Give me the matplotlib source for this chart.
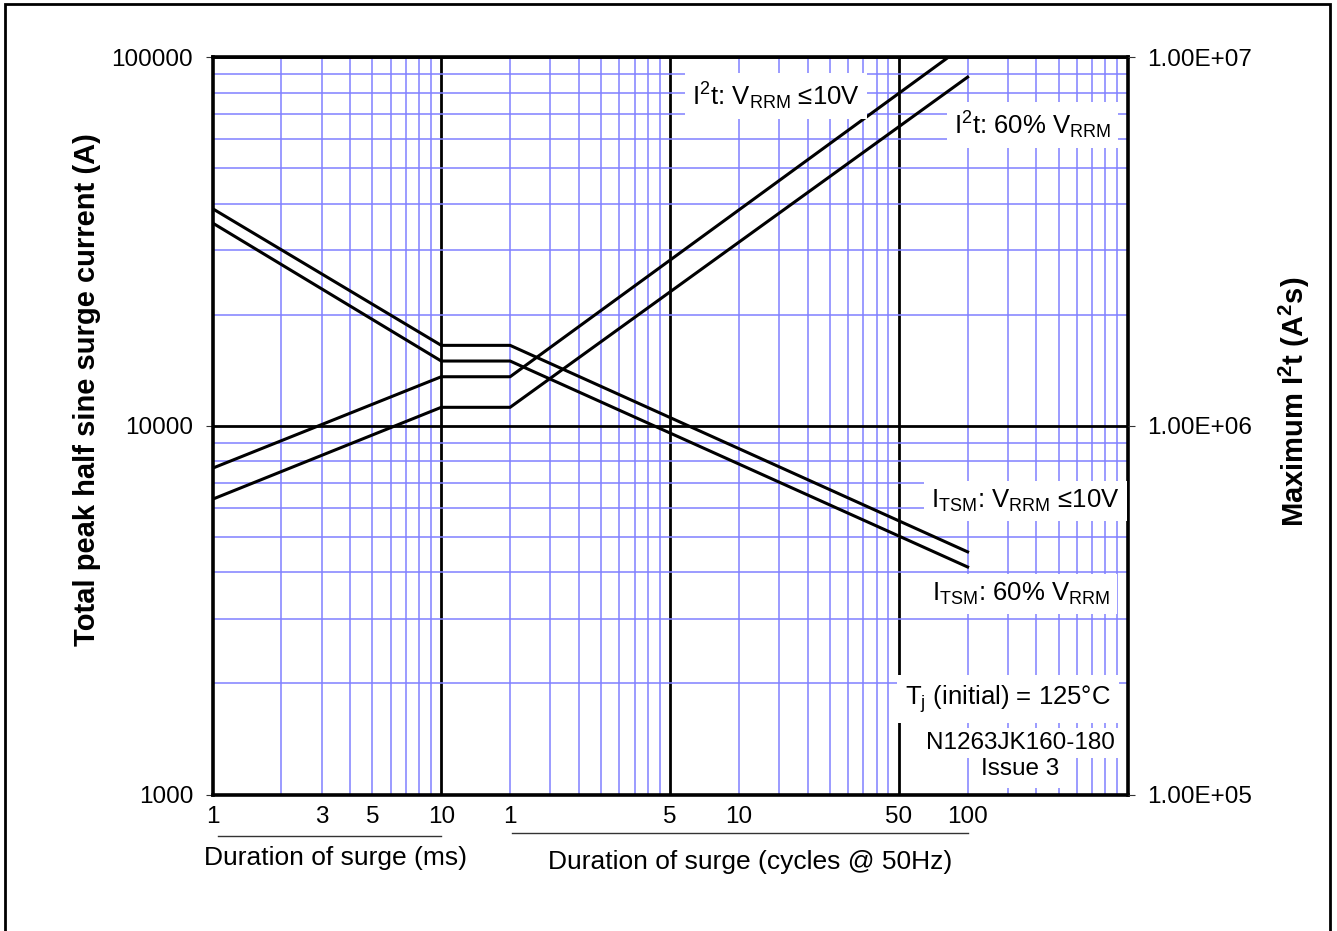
import matplotlib
matplotlib.use("Agg")
import matplotlib.pyplot as plt
from matplotlib.ticker import FixedLocator, LogLocator, NullFormatter, NullLocator, FixedFormatter
from matplotlib.patches import Rectangle
import matplotlib.transforms as mtransforms

plt.rcParams['font.family'] = ['Liberation Sans', 'DejaVu Sans']
plt.rcParams['mathtext.fontset'] = 'custom'
plt.rcParams['mathtext.rm'] = 'Liberation Sans'
plt.rcParams['mathtext.it'] = 'Liberation Sans:italic'
plt.rcParams['mathtext.bf'] = 'Liberation Sans:bold'

# ---- data (x in ms) ----
duration_ms = [1, 10, 20, 2000]
itsm_10v = [38800, 16520, 16520, 4550]
itsm_60 = [35480, 14980, 14980, 4140]
i2t_10v = [7.67e5, 1.358e6, 1.358e6, 1.09e7]
i2t_60 = [6.32e5, 1.122e6, 1.122e6, 8.82e6]

ms_tick_pos = [1, 3, 5, 10]
ms_tick_lbl = ['1', '3', '5', '10']
cyc_tick_pos = [20, 100, 200, 1000, 2000]
cyc_tick_lbl = ['1', '5', '10', '50', '100']

left_ticks = [1000, 10000, 100000]
left_lbls = ['1000', '10000', '100000']
right_ticks = [1e5, 1e6, 1e7]
right_lbls = ['1.00E+05', '1.00E+06', '1.00E+07']

FS = 17.5
AFS = 18.5
BLUE = '#8080ff'

fig = plt.figure(figsize=(13.37, 9.31), dpi=100)
W, H = 1337, 931
L, R, T, B = 212.5, 1127.5, 57, 794.5
ax = fig.add_axes([L / W, 1 - B / H, (R - L) / W, (B - T) / H])
ax.set_xscale('log')
ax.set_yscale('log')
ax.set_xlim(1, 10000)
ax.set_ylim(1000, 100000)

# grid
ax.xaxis.set_major_locator(FixedLocator([10, 100, 1000]))
ax.xaxis.set_minor_locator(LogLocator(base=10, subs=range(2, 10)))
ax.xaxis.set_major_formatter(NullFormatter())
ax.xaxis.set_minor_formatter(NullFormatter())
ax.yaxis.set_major_locator(FixedLocator(left_ticks))
ax.yaxis.set_major_formatter(FixedFormatter(left_lbls))
ax.yaxis.set_minor_locator(LogLocator(base=10, subs=range(2, 10)))
ax.yaxis.set_minor_formatter(NullFormatter())
ax.grid(True, which='minor', color=BLUE, lw=1.1, zorder=0)
ax.grid(True, which='major', color='black', lw=2.0, zorder=1)
ax.tick_params(axis='x', which='both', length=0)
ax.tick_params(axis='y', which='minor', length=0)
ax.tick_params(axis='y', which='major', length=5, width=0.8, color='#333333',
               pad=9, labelsize=FS, direction='out')
ax.set_axisbelow(True)
for s in ax.spines.values():
    s.set_linewidth(2.6)
    s.set_zorder(5)

# bottom labels via secondary axis
sec = ax.secondary_xaxis('bottom')
sec.xaxis.set_major_locator(FixedLocator(ms_tick_pos + cyc_tick_pos))
sec.xaxis.set_major_formatter(FixedFormatter(ms_tick_lbl + cyc_tick_lbl))
sec.xaxis.set_minor_locator(NullLocator())
sec.tick_params(length=0, pad=8, labelsize=FS)
sec.spines['bottom'].set_visible(False)

# right axis
ax2 = ax.twinx()
ax2.set_yscale('log')
ax2.set_ylim(1e5, 1e7)
ax2.yaxis.set_major_locator(FixedLocator(right_ticks))
ax2.yaxis.set_major_formatter(FixedFormatter(right_lbls))
ax2.yaxis.set_minor_locator(NullLocator())
ax2.tick_params(axis='y', which='major', length=5, width=0.8, color='#333333',
                pad=9, labelsize=FS, direction='out')
for s in ax2.spines.values():
    s.set_visible(False)

# data lines
lw = 2.2
ax.plot(duration_ms, itsm_10v, color='black', lw=lw, zorder=3, solid_joinstyle='miter')
ax.plot(duration_ms, itsm_60, color='black', lw=lw, zorder=3, solid_joinstyle='miter')
ax2.plot(duration_ms, i2t_10v, color='black', lw=lw, zorder=3, solid_joinstyle='miter')
ax2.plot(duration_ms, i2t_60, color='black', lw=lw, zorder=3, solid_joinstyle='miter')


def ax_xy(px, py):
    return (px - L) / (R - L), (B - py) / (B - T)


box = dict(facecolor='white', edgecolor='none', pad=5)
annots = [
    (692, 105, r'I$^{2}$t: V$_{\mathrm{RRM}}$ ≤10V', AFS, 5),
    (954, 134, r'I$^{2}$t: 60% V$_{\mathrm{RRM}}$', AFS, 5),
    (931, 508, r'I$_{\mathrm{TSM}}$: V$_{\mathrm{RRM}}$ ≤10V', AFS, 5),
    (932, 601, r'I$_{\mathrm{TSM}}$: 60% V$_{\mathrm{RRM}}$', AFS, 5),
    (905, 705, r'T$_{\mathrm{j}}$ (initial) = 125°C', AFS, 6),
]
for px, py, s, fs, pad in annots:
    x, y = ax_xy(px, py)
    ax2.text(x, y, s, transform=ax2.transAxes, ha='left', va='baseline',
             fontsize=fs, bbox=dict(facecolor='white', edgecolor='none', pad=pad), zorder=4)
x, y = ax_xy(1020, 749)
ax2.text(x, y, 'N1263JK160-180', transform=ax2.transAxes, ha='center',
         va='baseline', fontsize=FS, bbox=dict(facecolor='white', edgecolor='none', pad=3), zorder=4)
x, y = ax_xy(1020, 775)
ax2.text(x, y, 'Issue 3', transform=ax2.transAxes, ha='center',
         va='baseline', fontsize=FS, bbox=dict(facecolor='white', edgecolor='none', pad=6), zorder=4)

# axis labels
fig.text(87 / W, 1 - 390 / H, 'Total peak half sine surge current (A)', rotation=90,
         ha='center', va='center', fontsize=21, fontweight='bold')
fig.text(1294 / W, 1 - 402 / H, r'Maximum I$^{\mathbf{2}}$t (A$^{\mathbf{2}}$s)', rotation=90,
         ha='center', va='center', fontsize=21, fontweight='bold')

fig.text(336 / W, 1 - 858 / H, 'Duration of surge (ms)', ha='center', va='center', fontsize=19)
fig.text(750 / W, 1 - 862 / H, 'Duration of surge (cycles @ 50Hz)', ha='center', va='center', fontsize=19)

# underline rules below the tick labels
trans = mtransforms.blended_transform_factory(ax.transData, fig.transFigure)
ax.plot([1.06, 10], [1 - 836 / H] * 2, transform=trans, color='#333333', lw=1.0, clip_on=False)
ax.plot([20.3, 2000], [1 - 833 / H] * 2, transform=trans, color='#333333', lw=1.0, clip_on=False)

# outer frame
fig.patches.append(Rectangle((5 / W, -0.05), (1330 - 5) / W, 1.05 - 4 / H,
                             transform=fig.transFigure, fill=False, lw=2.0,
                             edgecolor='black'))

fig.savefig('out.png', dpi=100)
